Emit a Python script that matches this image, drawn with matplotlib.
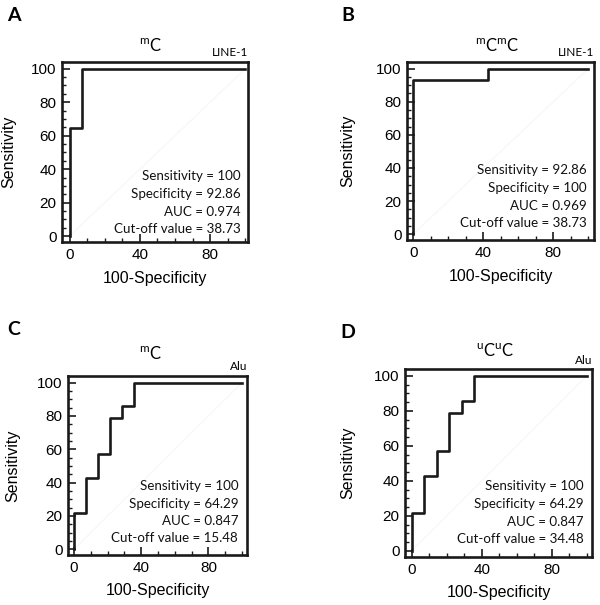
import matplotlib
matplotlib.use("Agg")
import matplotlib.pyplot as plt
from matplotlib.ticker import MultipleLocator, FixedLocator

plt.rcParams['mathtext.fontset'] = 'custom'
plt.rcParams['mathtext.rm'] = 'Lato'

# ROC step points (100-Specificity, Sensitivity)
fpr_a = [0, 0, 7.14, 100]
tpr_a = [0, 64.29, 100, 100]
fpr_b = [0, 0, 42.86, 100]
tpr_b = [0, 92.86, 100, 100]
fpr_c = [0, 0, 7.14, 14.29, 21.43, 28.57, 35.71, 100]
tpr_c = [0, 21.43, 42.86, 57.14, 78.57, 85.71, 100, 100]
fpr_d = [0, 0, 7.14, 14.29, 21.43, 28.57, 35.71, 100]
tpr_d = [0, 21.43, 42.86, 57.14, 78.57, 85.71, 100, 100]

letters = ['A', 'B', 'C', 'D']
titles = [r'$^{\mathrm{m}}$C', r'$^{\mathrm{m}}$C$^{\mathrm{m}}$C',
          r'$^{\mathrm{m}}$C', r'$^{\mathrm{u}}$C$^{\mathrm{u}}$C']
elements = ['LINE-1', 'LINE-1', 'Alu', 'Alu']
stats = [
    ['Sensitivity = 100', 'Specificity = 92.86', 'AUC = 0.974', 'Cut-off value = 38.73'],
    ['Sensitivity = 92.86', 'Specificity = 100', 'AUC = 0.969', 'Cut-off value = 38.73'],
    ['Sensitivity = 100', 'Specificity = 64.29', 'AUC = 0.847', 'Cut-off value = 15.48'],
    ['Sensitivity = 100', 'Specificity = 64.29', 'AUC = 0.847', 'Cut-off value = 34.48'],
]
curves = [(fpr_a, tpr_a), (fpr_b, tpr_b), (fpr_c, tpr_c), (fpr_d, tpr_d)]

W, H = 600, 605
# axes boxes in pixels: left, top, right, bottom
boxes = [(62, 62, 248, 242), (407, 62, 594, 240), (68, 376, 247, 555), (405, 369, 592, 557)]
xlims = [(-4.3, 101.5), (-3.5, 103.2), (-3.6, 103), (-3.8, 103)]
letter_pos = [(7, 21), (341, 21), (7, 335), (340, 338)]
title_x = [0.473, 0.48, 0.458, 0.48]
title_gap = [10, 10, 16, 12]
stat_base = [9, 13, 12.5, 14]   # px above the bottom spine
stat_right = [0.962, 0.963, 0.951, 0.957]
ylabel_x = [-0.285, -0.315, -0.307, -0.305]

fig = plt.figure(figsize=(W / 100, H / 100), dpi=100)

for i in range(4):
    l, t, r, b = boxes[i]
    ax = fig.add_axes([l / W, 1 - b / H, (r - l) / W, (b - t) / H])
    wpx, hpx = r - l, b - t
    fpr, tpr = curves[i]
    ax.plot([0, 100], [0, 100], color='#f8f8f8', lw=1, zorder=1)
    ax.plot(fpr, tpr, drawstyle='steps-post', color='#1a1a1a', lw=1.9, zorder=3)
    ax.set_xlim(*xlims[i])
    ax.set_ylim(-3.5, 104)

    ax.xaxis.set_major_locator(FixedLocator([0, 40, 80]))
    ax.xaxis.set_minor_locator(MultipleLocator(10))
    ax.yaxis.set_major_locator(MultipleLocator(20))
    ax.yaxis.set_minor_locator(MultipleLocator(5))
    ax.tick_params(which='major', direction='in', length=6, width=1.2,
                   labelsize=11, pad=4, color='#1a1a1a')
    ax.tick_params(which='minor', direction='in', length=3, width=1, color='#1a1a1a')
    for lab in ax.get_xticklabels() + ax.get_yticklabels():
        lab.set_fontfamily('Liberation Sans')
    for s in ax.spines.values():
        s.set_linewidth(1.9)
        s.set_color('#1a1a1a')

    ax.set_xlabel('100-Specificity', fontsize=11.5, family='Liberation Sans')
    ax.set_ylabel('Sensitivity', fontsize=11.5, family='Liberation Sans')
    ax.xaxis.set_label_coords(0.5, -36 / hpx)
    ax.xaxis.label.set_va('center')
    ax.yaxis.set_label_coords(ylabel_x[i], 0.5)
    ax.yaxis.label.set_va('center')

    # stats block, right aligned in the lower right corner
    for k, line in enumerate(reversed(stats[i])):
        ax.text(stat_right[i], (stat_base[i] + k * 17.5) / hpx, line, transform=ax.transAxes,
                ha='right', va='baseline', fontsize=9.6, family='Lato', color='#111111')

    ax.text(title_x[i], 1 + title_gap[i] / hpx, titles[i], transform=ax.transAxes,
            ha='center', va='baseline', fontsize=12, family='Lato')
    ax.text(1.0, 1 + 5.5 / hpx, elements[i], transform=ax.transAxes,
            ha='right', va='baseline', fontsize=8.5, family='Lato')

    lx, ly = letter_pos[i]
    fig.text(lx / W, 1 - ly / H, letters[i], ha='left', va='baseline',
             fontsize=14, fontweight='bold', family='Lato')

fig.savefig('out.png', dpi=100)
